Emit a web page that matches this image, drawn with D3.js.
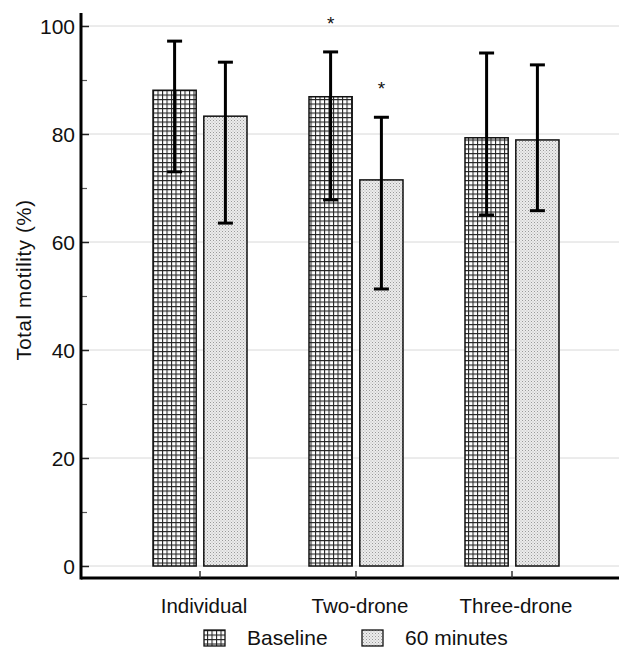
<!DOCTYPE html>
<html>
<head>
<meta charset="utf-8">
<script src="https://cdn.jsdelivr.net/npm/d3@7"></script>
<style>
body { margin: 0; background: #fff; }
text { font-family: "Liberation Sans", Arial, sans-serif; fill: #111; }
</style>
</head>
<body>
<div class="container"></div>
<script>
var categories = ["Individual", "Two-drone", "Three-drone"];
var seriesNames = ["Baseline", "60 minutes"];
var baseline = [88.1, 86.9, 79.3];
var baselineLow = [73.0, 67.8, 65.0];
var baselineHigh = [97.2, 95.2, 95.0];
var sixty = [83.3, 71.5, 78.9];
var sixtyLow = [63.5, 51.3, 65.8];
var sixtyHigh = [93.3, 83.1, 92.8];
var baselineStar = [false, true, false];
var sixtyStar = [false, true, false];
var yTicks = [0, 20, 40, 60, 80, 100];

var W = 619, H = 649;
var svg = d3.select(".container").append("svg")
    .attr("width", W).attr("height", H);

var defs = svg.append("defs");
var grid = defs.append("pattern").attr("id", "grid")
    .attr("patternUnits", "userSpaceOnUse")
    .attr("width", 4.5).attr("height", 4.5);
grid.append("rect").attr("width", 4.5).attr("height", 4.5).attr("fill", "#fff");
grid.append("path").attr("d", "M0,0.5H4.5M0.5,0V4.5")
    .attr("stroke", "#222").attr("stroke-width", 1.1);

var dots = defs.append("pattern").attr("id", "dots")
    .attr("patternUnits", "userSpaceOnUse")
    .attr("width", 3).attr("height", 3);
dots.append("rect").attr("width", 3).attr("height", 3).attr("fill", "#ececec");
dots.append("rect").attr("x", 0).attr("y", 0).attr("width", 1).attr("height", 1).attr("fill", "#9a9a9a");
dots.append("rect").attr("x", 1.5).attr("y", 1.5).attr("width", 1).attr("height", 1).attr("fill", "#b5b5b5");

var axisX = 81, axisY = 578;
var y = d3.scaleLinear().domain([0, 100]).range([566, 26]);
var x0 = d3.scaleBand().domain(categories).range([122, 590]);
var x1 = d3.scaleBand().domain(seriesNames).range([0, 94]).paddingInner(0.15);

// gridlines
svg.append("g").selectAll("line").data(yTicks).enter().append("line")
    .attr("x1", axisX).attr("x2", W)
    .attr("y1", function(d) { return y(d); }).attr("y2", function(d) { return y(d); })
    .attr("stroke", "#d8d8d8").attr("stroke-width", 1);

var rows = categories.map(function(c, i) {
  return [
    {cat: c, s: seriesNames[0], v: baseline[i], lo: baselineLow[i], hi: baselineHigh[i], star: baselineStar[i], fill: "url(#grid)"},
    {cat: c, s: seriesNames[1], v: sixty[i], lo: sixtyLow[i], hi: sixtyHigh[i], star: sixtyStar[i], fill: "url(#dots)"}
  ];
});
var flat = [].concat.apply([], rows);
function cx(d) { return x0(d.cat) + (x0.bandwidth() - 94) / 2 + x1(d.s); }

svg.append("g").selectAll("rect").data(flat).enter().append("rect")
    .attr("x", cx)
    .attr("y", function(d) { return y(d.v); })
    .attr("width", x1.bandwidth())
    .attr("height", function(d) { return y(0) - y(d.v); })
    .attr("fill", function(d) { return d.fill; })
    .attr("stroke", "#111").attr("stroke-width", 1.5);

var eb = svg.append("g").attr("stroke", "#000").attr("stroke-width", 3);
flat.forEach(function(d) {
  var m = cx(d) + x1.bandwidth() / 2;
  eb.append("line").attr("x1", m).attr("x2", m).attr("y1", y(d.lo)).attr("y2", y(d.hi));
  eb.append("line").attr("x1", m - 7.5).attr("x2", m + 7.5).attr("y1", y(d.hi)).attr("y2", y(d.hi));
  eb.append("line").attr("x1", m - 7.5).attr("x2", m + 7.5).attr("y1", y(d.lo)).attr("y2", y(d.lo));
  if (d.star) {
    svg.append("text").attr("x", m).attr("y", y(d.hi) - 22)
      .attr("text-anchor", "middle").style("font-size", "19px").text("*");
  }
});

// y axis
var ya = svg.append("g").attr("transform", "translate(" + axisX + ",0)")
    .call(d3.axisRight(y).tickValues(yTicks).tickSize(8).tickFormat(""));
ya.select(".domain").remove();
ya.selectAll(".tick line").attr("stroke", "#222").attr("stroke-width", 1.5);
svg.append("g").attr("transform", "translate(" + axisX + ",0)")
    .call(d3.axisRight(y).tickValues(d3.range(10, 100, 20)).tickSize(6).tickFormat(""))
    .call(function(g) { g.select(".domain").remove(); })
    .selectAll(".tick line").attr("stroke", "#555").attr("stroke-width", 1.2);
svg.append("g").selectAll("text").data(yTicks).enter().append("text")
    .attr("x", axisX - 6).attr("y", function(d) { return y(d); })
    .attr("dy", "0.36em").attr("text-anchor", "end")
    .style("font-size", "21px").text(function(d) { return d; });
svg.append("line").attr("x1", axisX).attr("x2", axisX).attr("y1", 13).attr("y2", axisY + 1.5)
    .attr("stroke", "#000").attr("stroke-width", 3);

// x axis
svg.append("line").attr("x1", axisX).attr("x2", W).attr("y1", axisY).attr("y2", axisY)
    .attr("stroke", "#000").attr("stroke-width", 3);
var xa = svg.append("g").attr("transform", "translate(0," + axisY + ")")
    .call(d3.axisTop(x0).tickSize(7).tickFormat(""));
xa.select(".domain").remove();
xa.selectAll(".tick line").attr("stroke", "#333").attr("stroke-width", 1.5);
svg.append("g").selectAll("text").data(categories).enter().append("text")
    .attr("x", function(d) { return x0(d) + x0.bandwidth() / 2 + 4; })
    .attr("y", 613).attr("text-anchor", "middle")
    .style("font-size", "20.5px").text(function(d) { return d; });

svg.append("text").attr("transform", "translate(31,280) rotate(-90)")
    .attr("text-anchor", "middle").style("font-size", "20.5px")
    .style("letter-spacing", "0.6px").text("Total motility (%)");

// legend
var legend = [{name: seriesNames[0], fill: "url(#grid)", x: 204}, {name: seriesNames[1], fill: "url(#dots)", x: 362}];
legend.forEach(function(l) {
  svg.append("rect").attr("x", l.x).attr("y", 630).attr("width", 21).attr("height", 16)
    .attr("fill", l.fill).attr("stroke", "#111").attr("stroke-width", 1.3);
  svg.append("text").attr("x", l.x + 43).attr("y", 645)
    .style("font-size", "21px").text(l.name);
});
</script>
</body>
</html>
